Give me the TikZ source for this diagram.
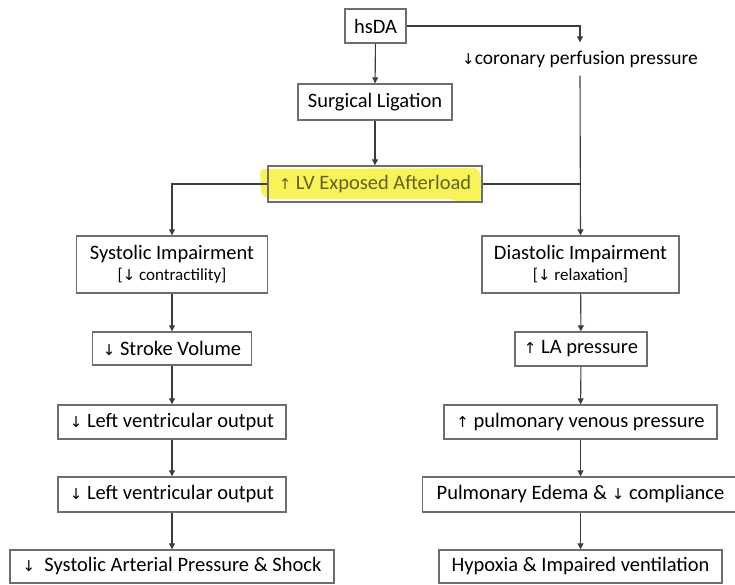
\documentclass[tikz,border=0pt]{standalone}
\usepackage{fontspec}
\setmainfont{Carlito}
\newfontfamily\arrowfont{DejaVu Sans}
\usetikzlibrary{arrows.meta,backgrounds}

\definecolor{boxline}{RGB}{110,110,110}
\definecolor{linkline}{RGB}{60,60,60}
\definecolor{marker}{RGB}{247,243,88}
\definecolor{markertext}{RGB}{100,100,30}

\newcommand{\decr}{{\arrowfont\fontsize{15}{15}\selectfont\char"2193}}
\newcommand{\incr}{{\arrowfont\fontsize{15}{15}\selectfont\char"2191}}

\tikzset{
  fbox/.style={draw=boxline, line width=1.4pt, inner sep=0pt, align=center,
    font=\fontsize{20.5}{22}\selectfont},
  link/.style={draw=linkline, line width=1.1pt, -{Triangle[length=6pt,width=6pt]}},
  plain/.style={draw=linkline, line width=1.1pt},
}

\begin{document}
\begin{tikzpicture}[x=1pt, y=-1pt]
    \useasboundingbox (0,0) rectangle (735,584);
    % top of the chart
    \node[fbox, minimum width=61pt, minimum height=34pt] (hsda) at (375.5,26) {hsDA};
    \node[fbox, minimum width=154pt, minimum height=36pt] (lig) at (375,102) {Surgical Ligation};
    \node[fbox, minimum width=214pt, minimum height=36pt, text=markertext] (aft) at (375,184) {\incr\ LV Exposed Afterload};
    \node[inner xsep=2pt, inner ysep=0pt, minimum height=33pt, font=\fontsize{19.5}{21}\selectfont] (cpp) at (580,59) {\decr coronary perfusion pressure};
    \coordinate (join) at (580,184);
    % marker highlight
    \begin{pgfonlayer}{background}
      \fill[marker, rounded corners=4pt] (260,169) -- (478,168) -- (484,186) -- (482,201) -- (455,203) -- (455,199) -- (268,199) -- (261,194) -- cycle;
    \end{pgfonlayer}
    % systolic side
    \node[fbox, minimum width=191pt, minimum height=57pt] (sys) at (172,264.5) {Systolic Impairment\\[-1pt]{\fontsize{17}{19}\selectfont[\decr\ contractility]}};
    \node[fbox, minimum width=159pt, minimum height=33pt] (sv) at (172,348.5) {\decr\ Stroke Volume};
    \node[fbox, minimum width=228pt, minimum height=34pt] (lvo) at (172,422) {\decr\ Left ventricular output};
    \node[fbox, minimum width=228pt, minimum height=35pt] (lvob) at (172,494.5) {\decr\ Left ventricular output};
    \node[fbox, minimum width=324pt, minimum height=33pt] (sap) at (172,566.5) {\decr\ \ Systolic Arterial Pressure \& Shock};
    % diastolic side
    \node[fbox, minimum width=197pt, minimum height=57pt] (dia) at (580.5,264.5) {Diastolic Impairment\\[-1pt]{\fontsize{17}{19}\selectfont[\decr\ relaxation]}};
    \node[fbox, minimum width=132pt, minimum height=34pt] (lap) at (581,349) {\incr\ LA pressure};
    \node[fbox, minimum width=273pt, minimum height=34pt] (pvp) at (580.5,422) {\incr\ pulmonary venous pressure};
    \node[fbox, minimum width=316pt, minimum height=35pt] (edema) at (580.5,494.5) {Pulmonary Edema \& \decr\ compliance};
    \node[fbox, minimum width=283pt, minimum height=33pt] (hyp) at (580.5,566.5) {Hypoxia \& Impaired ventilation};
    % connectors
    \draw[link] (hsda) -- (lig);
    \draw[link] (lig) -- (aft);
    \draw[link] (hsda.east) -| (cpp.north);
    \draw[link] (aft.west) -| (sys.north);
    \draw[plain] (aft.east) -- (join);
    \draw[link] (cpp.south) -- (dia.north);
    \draw[link] (sys) -- (sv);
    \draw[link] (sv) -- (lvo);
    \draw[link] (lvo) -- (lvob);
    \draw[link] (lvob) -- (sap);
    \draw[link] (dia) -- (lap);
    \draw[link] (lap) -- (pvp);
    \draw[link] (pvp) -- (edema);
    \draw[link] (edema) -- (hyp);
\end{tikzpicture}
\end{document}
